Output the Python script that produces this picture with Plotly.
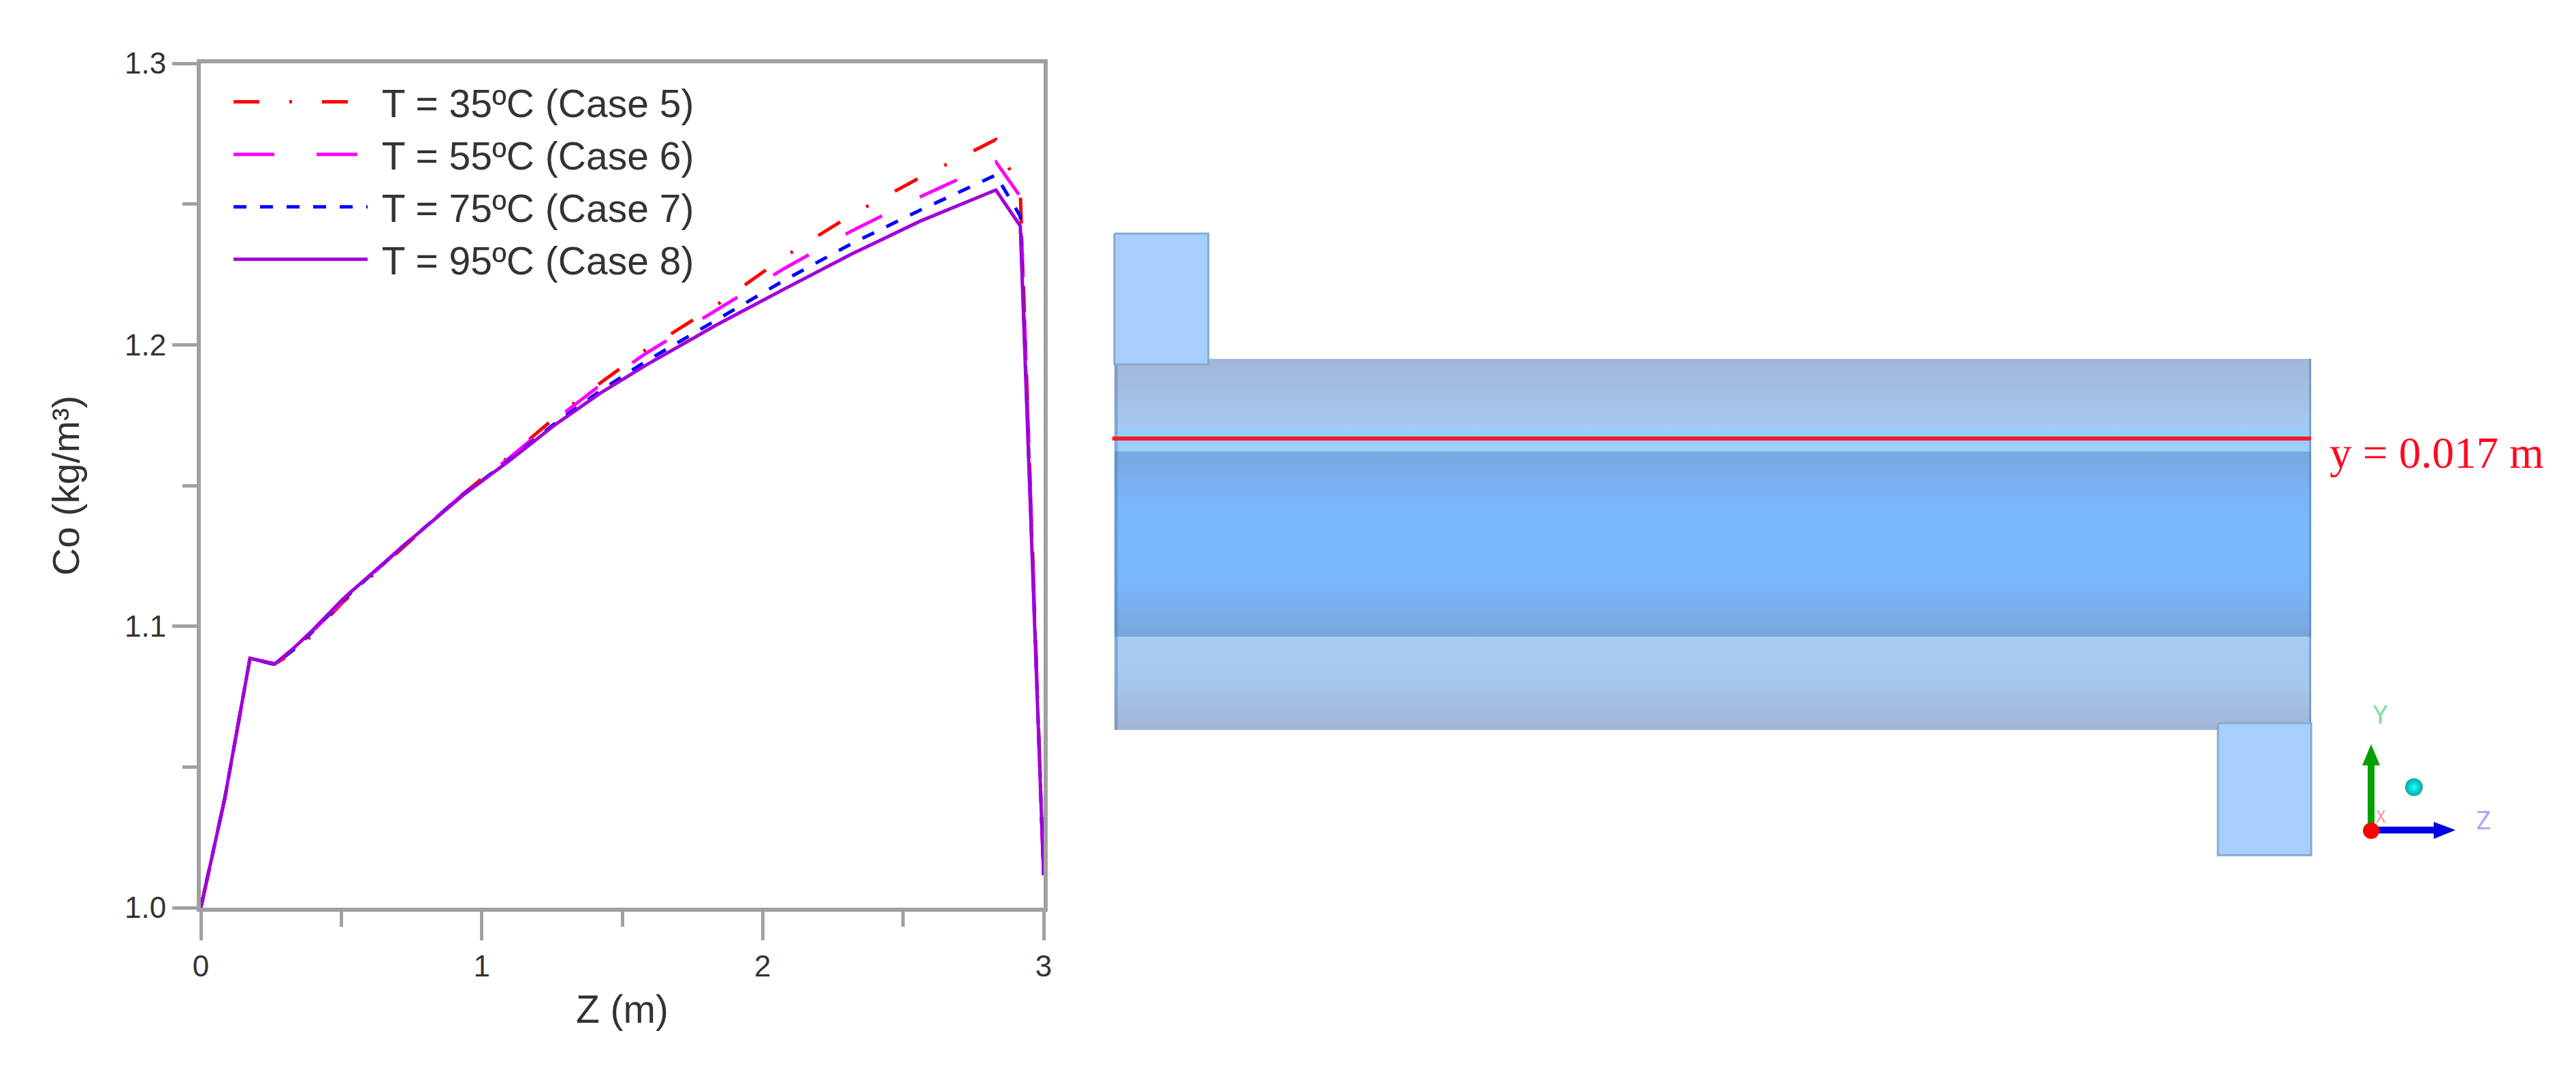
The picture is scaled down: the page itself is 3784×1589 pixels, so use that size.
"""Co profiles along the tube (left) and the tube schematic with the sampling line (right)."""
import plotly.graph_objects as go

WIDTH = 3784
HEIGHT = 1589
PAGE_MARGIN = 8  # default body margin of the written page
FIG_W = WIDTH - 2 * PAGE_MARGIN
FIG_H = HEIGHT - 2 * PAGE_MARGIN

# Values
z_m = [0, 0.085, 0.175, 0.263, 0.328, 0.392, 0.505, 0.72, 0.934, 1.097, 1.257, 1.42,
       1.582, 1.833, 2.075, 2.318, 2.56, 2.83, 2.917, 3.0]
co_case5 = [1.0, 1.0387, 1.0886, 1.0866, 1.0905, 1.0965, 1.1085, 1.128, 1.147, 1.1603, 1.1738,
            1.1863, 1.1981, 1.2139, 1.2311, 1.2463, 1.2594, 1.2729, 1.2541, 1.0116]
co_case6 = [1.0, 1.0387, 1.0886, 1.0866, 1.0915, 1.0975, 1.109, 1.1285, 1.147, 1.1597, 1.173,
            1.1855, 1.1968, 1.2122, 1.227, 1.2405, 1.2525, 1.265, 1.2527, 1.0116]
co_case7 = [1.0, 1.0387, 1.0886, 1.0864, 1.0915, 1.0975, 1.1092, 1.1285, 1.1468, 1.159, 1.1718,
            1.1835, 1.194, 1.2088, 1.2228, 1.236, 1.2478, 1.2603, 1.2457, 1.0116]
co_case8 = [1.0, 1.0387, 1.0886, 1.0866, 1.092, 1.098, 1.1096, 1.1285, 1.1466, 1.1587, 1.1713,
            1.1827, 1.1926, 1.2069, 1.2197, 1.2323, 1.2439, 1.255, 1.2422, 1.0116]

# The leading no-break space keeps the legend text clear of the long line samples
series_names = ["\u00a0T = 35ºC (Case 5)", "\u00a0T = 55ºC (Case 6)",
                "\u00a0T = 75ºC (Case 7)", "\u00a0T = 95ºC (Case 8)"]
series_values = [co_case5, co_case6, co_case7, co_case8]
series_colors = ["#ff0000", "#ff00ff", "#0000ff", "#a000d8"]
series_dashes = ["38px,44px,4px,44px", "60px,62px", "19px,20px", "solid"]

AXIS_COLOR = "#a0a0a0"
TEXT_COLOR = "#333333"

# Schematic, in picture pixels
TUBE_LEFT, TUBE_RIGHT = 1637, 3395
top_band = [527, 663]
mid_band = [663, 935]
bottom_band = [935, 1072]
top_colors = [[0, "#a0b6d6"], [0.75, "#a6c9f1"], [0.8, "#8fd2ff"], [0.93, "#9ccdf6"], [1, "#9fd0f8"]]
mid_colors = [[0, "#78a8df"], [0.25, "#79b5f8"], [0.5, "#7abaff"], [0.75, "#79b5f8"], [1, "#78a6da"]]
bottom_colors = [[0, "#a8cbf3"], [0.5, "#a6c7ee"], [1, "#a0b5d5"]]
inlet_box = [1637, 1775, 343, 535]
outlet_box = [3258, 3395, 1062, 1256]
BOX_FILL = "#a6cffd"
BOX_EDGE = "#88a9d2"
RED_LINE_Y = 644


def page_x(px):
    return (px - PAGE_MARGIN) / FIG_W


def page_y(px):
    return 1 - (px - PAGE_MARGIN) / FIG_H


def rect_xy(x0, x1, y0, y1):
    return [x0, x1, x1, x0, x0], [y0, y0, y1, y1, y0]


def add_patch(fig, xs, ys, color, line_color=None, line_width=0):
    fig.add_trace(go.Scatter(
        x=xs, y=ys, xaxis="x2", yaxis="y2", mode="lines", fill="toself", fillcolor=color,
        line=dict(color=line_color or color, width=line_width),
        showlegend=False, hoverinfo="skip",
    ))


def add_band(fig, band, colors):
    xs, ys = rect_xy(TUBE_LEFT, TUBE_RIGHT, band[0], band[1])
    fig.add_trace(go.Scatter(
        x=xs, y=ys, xaxis="x2", yaxis="y2", mode="lines", fill="toself",
        line=dict(width=0),
        fillgradient=dict(type="vertical", colorscale=colors, start=band[0], stop=band[1]),
        showlegend=False, hoverinfo="skip",
    ))


fig = go.Figure()

for name, values, color, dash in zip(series_names, series_values, series_colors, series_dashes):
    fig.add_trace(go.Scatter(
        x=z_m, y=values, mode="lines", name=name,
        line=dict(color=color, width=5, dash=dash),
    ))

# Tube body
add_band(fig, top_band, top_colors)
add_band(fig, mid_band, mid_colors)
add_band(fig, bottom_band, bottom_colors)

# Darker end caps of the tube
xs, ys = rect_xy(TUBE_LEFT, TUBE_LEFT + 5, top_band[0], bottom_band[1])
add_patch(fig, xs, ys, "rgba(70,110,160,0.35)")
xs, ys = rect_xy(TUBE_RIGHT - 3, TUBE_RIGHT, top_band[0], bottom_band[1])
add_patch(fig, xs, ys, "rgba(70,110,160,0.45)")

# Inlet and outlet
for box in (inlet_box, outlet_box):
    xs, ys = rect_xy(box[0], box[1], box[2], box[3])
    add_patch(fig, xs, ys, BOX_FILL, BOX_EDGE, 3)

# Sampling line
fig.add_trace(go.Scatter(
    x=[TUBE_LEFT - 3, TUBE_RIGHT], y=[RED_LINE_Y, RED_LINE_Y], xaxis="x2", yaxis="y2",
    mode="lines", line=dict(color="#ff1a30", width=6), showlegend=False, hoverinfo="skip",
))

# Coordinate triad
add_patch(fig, [3478, 3488, 3488, 3496, 3483, 3470, 3478, 3478],
          [1219, 1219, 1124, 1124, 1093, 1124, 1124, 1219], "#00a000")
add_patch(fig, [3483, 3575, 3575, 3607, 3575, 3575, 3483, 3483],
          [1214, 1214, 1207, 1219, 1232, 1224, 1224, 1214], "#0000e6")
fig.add_trace(go.Scatter(
    x=[3483], y=[1220], xaxis="x2", yaxis="y2", mode="markers",
    marker=dict(color="#ff0000", size=24), showlegend=False, hoverinfo="skip",
))
fig.add_trace(go.Scatter(
    x=[3546], y=[1156], xaxis="x2", yaxis="y2", mode="markers",
    marker=dict(color="#00a8a8", size=26, gradient=dict(type="radial", color="#20ffff")),
    showlegend=False, hoverinfo="skip",
))

fig.update_layout(
    width=FIG_W,
    height=FIG_H,
    margin=dict(l=0, r=0, t=0, b=0),
    paper_bgcolor="white",
    plot_bgcolor="rgba(0,0,0,0)",  # the overlaid schematic axes would hide the chart otherwise
    font=dict(family="Liberation Sans", color=TEXT_COLOR),
    legend=dict(
        x=page_x(338), y=page_y(106), xanchor="left", yanchor="top",
        bgcolor="rgba(0,0,0,0)", itemwidth=197, tracegroupgap=0,
        font=dict(size=57, color=TEXT_COLOR),
    ),
    xaxis=dict(
        automargin=False,
        domain=[page_x(295), page_x(1533)], range=[0, 3], dtick=1, tick0=0,
        showgrid=False, zeroline=False, showline=True, mirror=True,
        linecolor=AXIS_COLOR, linewidth=6,
        ticks="outside", ticklen=42, tickwidth=5, tickcolor=AXIS_COLOR,
        minor=dict(dtick=0.5, tick0=0, ticks="outside", ticklen=22, tickwidth=5,
                   tickcolor=AXIS_COLOR, showgrid=False),
        tickfont=dict(size=44, color=TEXT_COLOR),
        title=dict(text="Z (m)", font=dict(size=57, color=TEXT_COLOR), standoff=22),
        anchor="y",
    ),
    yaxis=dict(
        automargin=False,
        domain=[page_y(1333), page_y(93)], range=[1, 1.3], dtick=0.1, tick0=1,
        showgrid=False, zeroline=False, showline=True, mirror=True,
        linecolor=AXIS_COLOR, linewidth=6,
        ticks="outside", ticklen=36, tickwidth=5, tickcolor=AXIS_COLOR,
        minor=dict(dtick=0.05, ticks="outside", ticklen=21, tickwidth=5,
                   tickcolor=AXIS_COLOR, showgrid=False),
        tickformat=".1f",
        tickfont=dict(size=44, color=TEXT_COLOR),
        title=dict(text="Co (kg/m³)", font=dict(size=56, color=TEXT_COLOR), standoff=50),
        anchor="x",
    ),
    xaxis2=dict(automargin=False, domain=[0, 1], range=[PAGE_MARGIN, PAGE_MARGIN + FIG_W],
                visible=False, anchor="y2", fixedrange=True),
    yaxis2=dict(automargin=False, domain=[0, 1], range=[PAGE_MARGIN + FIG_H, PAGE_MARGIN],
                visible=False, anchor="x2", fixedrange=True),
    annotations=[
        dict(text="y = 0.017 m", x=3420, y=665, xref="x2", yref="y2", xanchor="left",
             yanchor="middle", showarrow=False,
             font=dict(family="Liberation Serif", size=65, color="#ff0a20")),
        dict(text="Y", x=3496, y=1050, xref="x2", yref="y2", showarrow=False,
             font=dict(family="DejaVu Sans Mono", size=38, color="#80e0a0")),
        dict(text="Z", x=3647, y=1205, xref="x2", yref="y2", showarrow=False,
             font=dict(family="DejaVu Sans Mono", size=38, color="#a8a8ff")),
        dict(text="X", x=3497, y=1200, xref="x2", yref="y2", showarrow=False,
             font=dict(family="DejaVu Sans Mono", size=24, color="#ff9090")),
    ],
)

fig.write_html("out.html")
